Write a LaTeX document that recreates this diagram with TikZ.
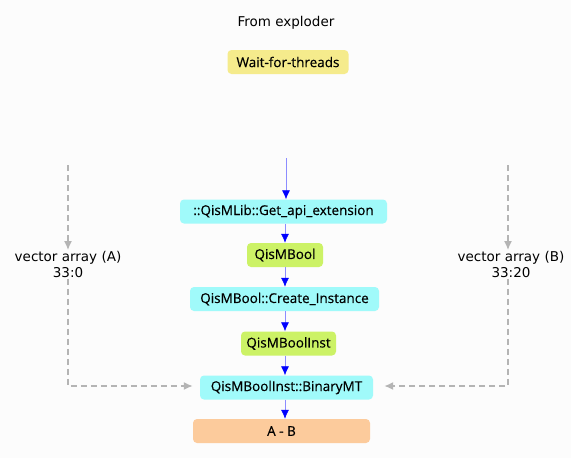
\documentclass[tikz,border=0pt]{standalone}
\usepackage{fontspec}
\setmainfont{DejaVu Sans}
\newfontfamily\boxfont{Open Sans}[FakeBold=0.4]
\usetikzlibrary{arrows.meta}
\definecolor{callcyan}{HTML}{A0FAFA}
\definecolor{typegreen}{HTML}{CCF266}
\definecolor{waityellow}{HTML}{F5EB8C}
\definecolor{resultpeach}{HTML}{FCCB9C}
\definecolor{dashgrey}{HTML}{B4B4B4}
\tikzset{
  fnbox/.style={rounded corners=4pt,inner sep=0pt,minimum height=24pt,font=\boxfont\fontsize{13.5}{15}\selectfont},
  flow/.style={draw=blue!45,semithick,arrows=-{Latex[length=9pt,width=8pt,color=blue]}},
  feed/.style={draw=dashgrey,line width=1.6pt,dash pattern=on 6pt off 4pt,arrows=-{Latex[length=9pt,width=8pt]}},
  lbl/.style={font=\fontsize{13.5}{16}\selectfont,align=center,inner sep=1pt}
}
\begin{document}
\begin{tikzpicture}[x=1pt,y=-1pt]
\useasboundingbox[fill={rgb,255:red,252;green,252;blue,252}] (0,0) rectangle (571,458);

% header:
\node[lbl] (from) at (286,23) {From exploder};
\node[fnbox,fill=waityellow,minimum width=121pt] (wait) at (288,62) {Wait-for-threads};

% call chain:
\node[fnbox,fill=callcyan,minimum width=207pt] (getapi) at (283.5,211.5) {::QisMLib::Get\_api\_extension};
\node[fnbox,fill=typegreen,minimum width=76pt] (bool) at (285,255) {QisMBool};
\node[fnbox,fill=callcyan,minimum width=189pt] (create) at (284.5,299) {QisMBool::Create\_Instance};
\node[fnbox,fill=typegreen,minimum width=95pt] (inst) at (288.5,343.5) {QisMBoolInst};
\node[fnbox,fill=callcyan,minimum width=173pt] (binary) at (286.5,387.5) {QisMBoolInst::BinaryMT};
\node[fnbox,fill=resultpeach,minimum width=177pt] (result) at (281.5,431) {A - B};

% inputs:
\node[lbl] (vecA) at (68,264.5) {vector array (A)\\33:0};
\node[lbl] (vecB) at (511,264.5) {vector array (B)\\33:20};
\coordinate (entry) at (286,158);
\coordinate (topA) at (68,165);
\coordinate (topB) at (508,165);
\coordinate (cornA) at (68,386);
\coordinate (cornB) at (508,386);

\draw[flow] (entry) -- (entry |- getapi.north);
\draw[flow] (getapi.south -| bool) -- (bool.north);
\draw[flow] (bool.south) -- (bool.south |- create.north);
\draw[flow] (create.south -| bool) -- (bool |- inst.north);
\draw[flow] (inst.south -| bool) -- (bool |- binary.north);
\draw[flow] (binary.south -| bool) -- (bool |- result.north);

\draw[feed] (topA) -- (vecA.north -| topA);
\draw[feed] (vecA.south -| topA) -- (cornA) -- ([xshift=-7pt]binary.west |- cornA);
\draw[feed] (topB) -- (vecB.north -| topB);
\draw[feed] (vecB.south -| topB) -- (cornB) -- ([xshift=11pt]binary.east |- cornB);

\end{tikzpicture}
\end{document}
